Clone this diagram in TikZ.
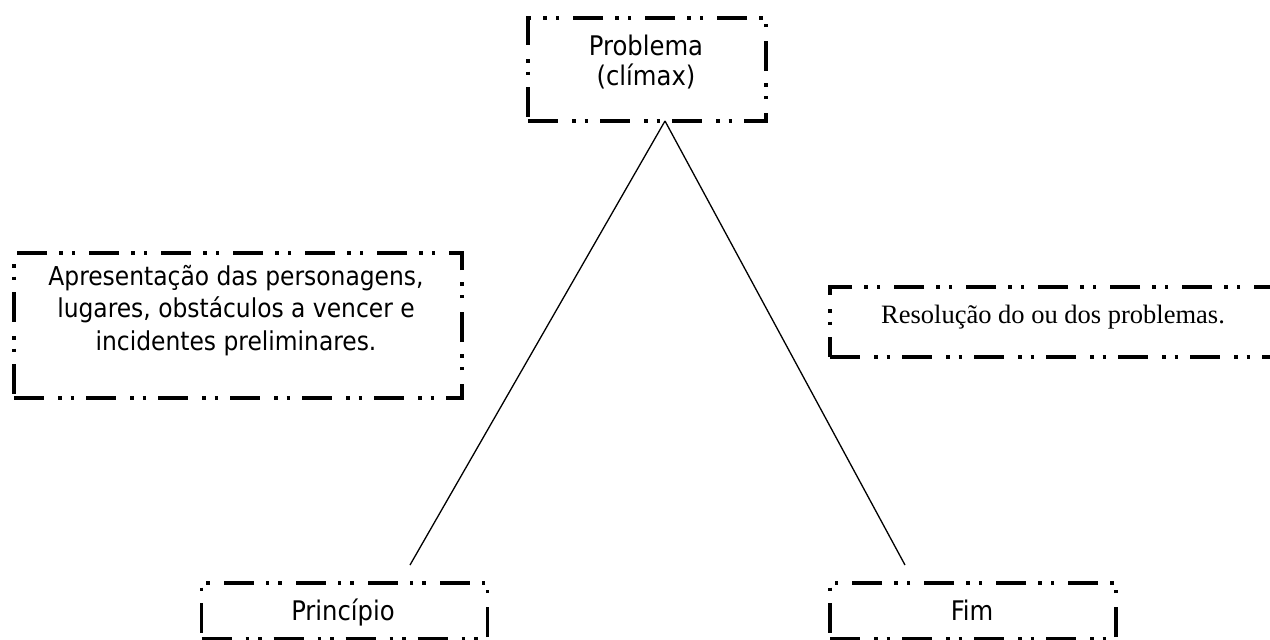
\documentclass[tikz,border=0pt]{standalone}
\usepackage{fontspec}
\setmainfont{DejaVu Sans Condensed}
\newfontfamily\timesf{Liberation Serif}
\begin{document}
\begin{tikzpicture}[x=1pt,y=-1pt,
  dashbox/.style={draw=black, line width=3.5pt, inner sep=0pt, fill=none,
    dash pattern=on 30pt off 14pt on 3.5pt off 9pt on 3.5pt off 12pt},
  lbl/.style={anchor=base, inner sep=0pt, font=\fontsize{27}{32}\selectfont},
  lbls/.style={anchor=base, inner sep=0pt, font=\fontsize{26}{31}\selectfont},
  serif/.style={anchor=base, inner sep=0pt, font=\timesf\fontsize{26.5}{30}\selectfont},
  conn/.style={draw=black, line width=1.3pt}]
\useasboundingbox[fill=white] (0,0) rectangle (1270,640);
% boxes
\node[dashbox, minimum width=238pt, minimum height=103pt] (prob) at (647,69.5) {};
\node[dashbox, minimum width=448pt, minimum height=145pt] (apr) at (238,325.5) {};
\node[dashbox, minimum width=480pt, minimum height=70pt] (res) at (1070,322) {};
\node[dashbox, minimum width=286pt, minimum height=56pt] (pri) at (344.5,611) {};
\node[dashbox, minimum width=286pt, minimum height=56pt] (fim) at (973,611) {};
% texts
\node[lbl] (t1) at (646,55) {Problema};
\node[lbl] (t2) at (646,85) {(clímax)};
\node[lbls] (a1) at (236,285) {Apresentação das personagens,};
\node[lbls] (a2) at (236,317) {lugares, obstáculos a vencer e};
\node[lbls] (a3) at (236,350) {incidentes preliminares.};
\node[serif] (r1) at (1053,323) {Resolução do ou dos problemas.};
\node[lbl] (p1) at (343,620) {Princípio};
\node[lbl] (f1) at (972,620) {Fim};
% connectors
\coordinate (apex) at (665,121);
\coordinate (pend) at (410,565);
\coordinate (fend) at (905,565);
\draw[conn] (apex) -- (pend);
\draw[conn] (apex) -- (fend);
\end{tikzpicture}
\end{document}
